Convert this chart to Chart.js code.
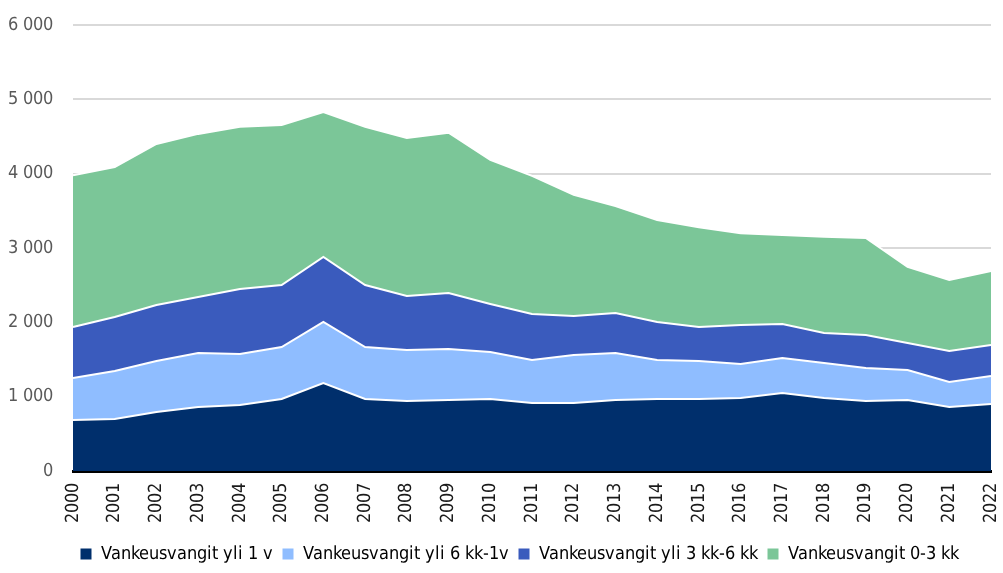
<!DOCTYPE html>
<html>
<head>
<meta charset="utf-8">
<script src="https://cdn.jsdelivr.net/npm/chart.js@4"></script>
<style>
    @font-face {
        font-family: "NarrowFace";
        src: local("DejaVu Sans Condensed"), local("DejaVuSansCondensed"),
             local("Liberation Sans Narrow"), local("LiberationSansNarrow");
    }
    html, body { margin: 0; padding: 0; background: #fff; }
    #wrap { width: 1003px; height: 573px; }
</style>
</head>
<body>
<div id="wrap"><canvas id="prisonChart"></canvas></div>
<script>
// Years on the x axis
const years = ["2000", "2001", "2002", "2003", "2004", "2005", "2006", "2007", "2008", "2009", "2010",
    "2011", "2012", "2013", "2014", "2015", "2016", "2017", "2018", "2019", "2020", "2021", "2022"];

// Series values
const yli1v = [686, 700, 794, 861, 888, 969, 1184, 969, 942, 955, 969, 915, 915, 955, 969, 969, 982, 1049, 982, 942, 955, 861, 901];
const yli6kk1v = [565, 645, 686, 727, 686, 699, 821, 699, 686, 686, 632, 578, 646, 633, 524, 511, 458, 471, 471, 444, 404, 336, 377];
const yli3kk6kk = [686, 727, 753, 752, 875, 834, 874, 834, 726, 754, 646, 619, 524, 538, 512, 457, 524, 458, 404, 444, 363, 417, 417];
const kk0to3 = [2043, 2018, 2167, 2195, 2181, 2153, 1951, 2128, 2126, 2155, 1938, 1858, 1630, 1439, 1370, 1343, 1236, 1197, 1293, 1305, 1023, 956, 995];

// Y tick labels
const yTicks = [0, 1000, 2000, 3000, 4000, 5000, 6000];

const seriesNames = ["Vankeusvangit yli 1 v", "Vankeusvangit yli 6 kk-1v", "Vankeusvangit yli 3 kk-6 kk", "Vankeusvangit 0-3 kk"];
const seriesColors = ["#002f6c", "#8fbdff", "#3a5bbd", "#7bc698"];
const seriesData = [yli1v, yli6kk1v, yli3kk6kk, kk0to3];

const FONT = "NarrowFace, 'DejaVu Sans', sans-serif";

function fmt(v) {
    // 6000 -> "6 000"
    return String(v).replace(/\B(?=(\d{3})+(?!\d))/g, " ");
}

// nudge the legend a bit to the right, like in the original
const legendShift = {
    id: "legendShift",
    afterLayout: function (chart) {
        if (chart.legend) {
            chart.legend.left += 24;
            chart.legend.right += 24;
        }
    },
};

function drawChart() {
    const ctx = document.getElementById("prisonChart").getContext("2d");

    new Chart(ctx, {
        type: "line",
        data: {
            labels: years,
            datasets: seriesData.map(function (vals, i) {
                return {
                    label: seriesNames[i],
                    data: vals,
                    backgroundColor: seriesColors[i],
                    borderColor: "#ffffff",
                    borderWidth: 2,
                    pointRadius: 0,
                    tension: 0,
                    fill: i === 0 ? "origin" : "-1",
                };
            }),
        },
        plugins: [legendShift],
        options: {
            responsive: true,
            maintainAspectRatio: false,
            animation: false,
            layout: {
                padding: { top: 25, right: 12, left: 0, bottom: 0 },
            },
            plugins: {
                tooltip: { enabled: false },
                legend: {
                    display: true,
                    position: "bottom",
                    labels: {
                        boxWidth: 11,
                        boxHeight: 11,
                        padding: 10,
                        color: "#1a1a1a",
                        font: { family: FONT, size: 18 },
                        generateLabels: function (chart) {
                            return chart.data.datasets.map(function (ds, i) {
                                return {
                                    text: ds.label,
                                    fillStyle: seriesColors[i],
                                    strokeStyle: seriesColors[i],
                                    lineWidth: 0,
                                    datasetIndex: i,
                                };
                            });
                        },
                    },
                },
            },
            scales: {
                x: {
                    offset: false,
                    grid: { display: false },
                    border: { display: true, color: "#000000", width: 3 },
                    afterFit: function (scale) {
                        scale.height = 64;
                        scale.paddingLeft = 0;
                        scale.paddingRight = 0;
                    },
                    ticks: {
                        autoSkip: false,
                        minRotation: 90,
                        maxRotation: 90,
                        color: "#1a1a1a",
                        padding: 4,
                        font: { family: FONT, size: 18 },
                    },
                },
                y: {
                    stacked: true,
                    min: 0,
                    max: 6000,
                    afterFit: function (scale) {
                        scale.width = 73;
                        scale.paddingTop = 0;
                        scale.paddingBottom = 0;
                    },
                    afterBuildTicks: function (scale) {
                        scale.ticks = yTicks.map(function (v) { return { value: v }; });
                    },
                    border: { display: false },
                    grid: { color: "#d9d9d9", lineWidth: 2, drawTicks: false },
                    ticks: {
                        color: "#595959",
                        padding: 20,
                        font: { family: FONT, size: 18 },
                        callback: function (v) { return fmt(v); },
                    },
                },
            },
        },
    });
}

document.addEventListener("DOMContentLoaded", function () {
    // make sure the narrow face is ready before the canvas draws text
    document.fonts.load("18px NarrowFace").then(drawChart, drawChart);
});
</script>
</body>
</html>
